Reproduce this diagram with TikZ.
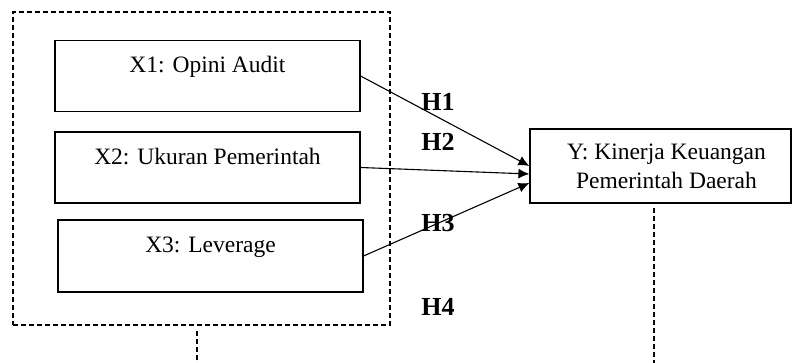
\documentclass[tikz,border=0pt]{standalone}
\usepackage{fontspec}
\setmainfont{Liberation Serif}
\usepackage{tikz}
\usetikzlibrary{positioning,arrows.meta}
\tikzset{
	varbox/.style={draw,
		line width=0.6pt,
		minimum width=152.5pt,
		minimum height=35.5pt,
		text height=8pt,
		text depth=11pt,
		inner sep=0pt,
	},
	grouplink/.style={draw, line width=0.55pt, dash pattern=on 2.5pt off 1.5pt},
	hyplabel/.style={font=\fontsize{13}{15}\selectfont\bfseries, inner sep=0pt},
	hyparrow/.style={-{Latex[length=5.5pt, width=5pt]}, line width=0.55pt},
}

\begin{document}
\begin{tikzpicture}[x=0.5pt, y=-0.5pt, font=\fontsize{11.75}{14.5}\selectfont]
\useasboundingbox (0,0) rectangle (792,363);

% Independent variables
\node [varbox] (x1) at (207.5,76) {X1: Opini Audit};
\node [varbox] (x2) at (207.5,167.5) {X2: Ukuran Pemerintah};
\node [varbox, minimum height=36pt] (x3) at (210.5,256) {X3: Leverage};

% Group frame
\node [grouplink,
	minimum width=188.5pt,
	minimum height=156.5pt,
] (group) at (201.5,168.5) {};

% Dependent variable
\node [draw,
	line width=0.6pt,
	minimum width=130.5pt,
	minimum height=37pt,
	align=center,
	inner sep=0pt,
] (y) at (660.5,166) {\hspace*{6pt}Y: Kinerja Keuangan\\\hspace*{6pt}Pemerintah Daerah};

% Arrows
\draw[hyparrow] (x1.east) -- (y.west);
\draw[hyparrow] (x2.east) -- ([yshift=-4pt] y.west);
\draw[hyparrow] (x3.east) -- ([yshift=-8.5pt] y.west);

% Hypothesis labels
\node [hyplabel] (h1) at (438,102) {H1};
\node [hyplabel] (h2) at (438,142) {H2};
\node [hyplabel] (h3) at (438,223) {H3};
\node [hyplabel] (h4) at (438,307) {H4};

% Dashed links
\coordinate (groupend) at (197,363);
\coordinate (yend) at (654,363);
\draw[grouplink] ([xshift=-2.25pt, yshift=-2.5pt] group.south) -- (groupend);
\draw[grouplink] ([xshift=-3.25pt, yshift=-2pt] y.south) -- (yend);

\end{tikzpicture}
\end{document}
